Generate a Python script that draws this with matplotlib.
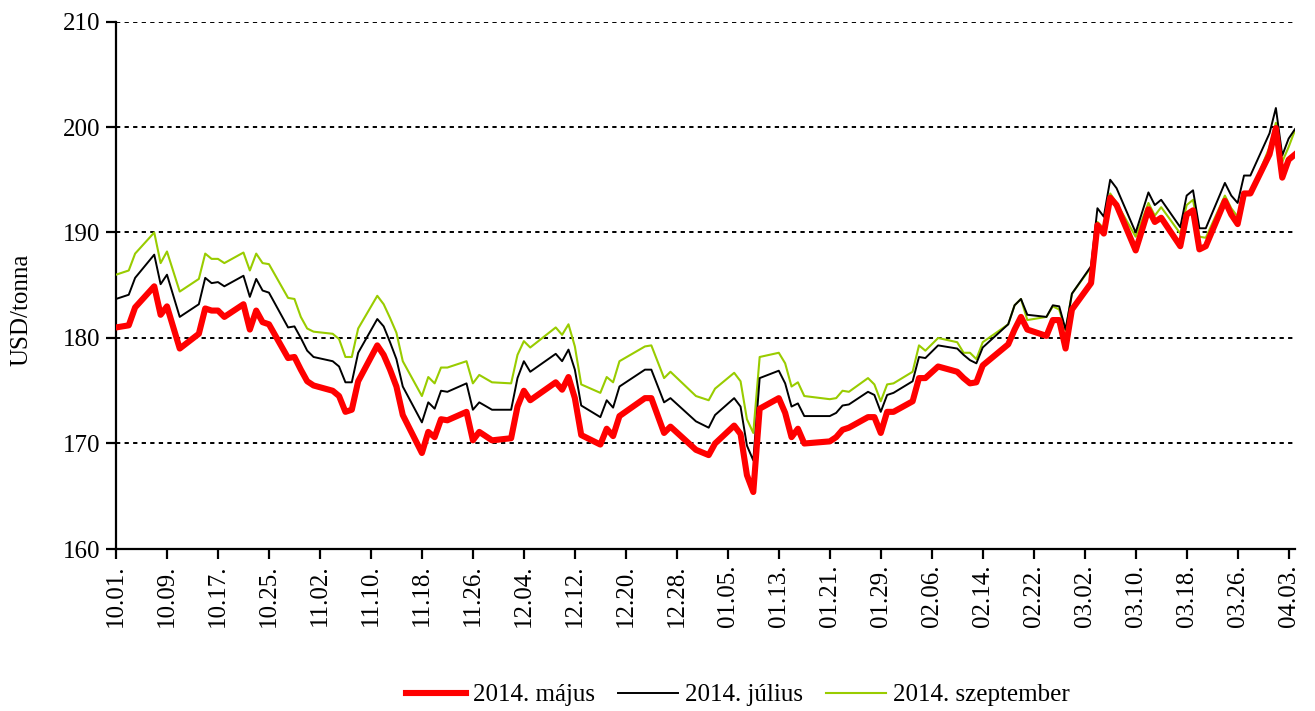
import matplotlib
matplotlib.use("Agg")
import matplotlib.pyplot as plt
import matplotlib.dates as mdates
from datetime import datetime, timedelta

# trading days (vertices)
dates = ["2013-10-01", "2013-10-03", "2013-10-04", "2013-10-07", "2013-10-08", "2013-10-09",
         "2013-10-11", "2013-10-14", "2013-10-15", "2013-10-16", "2013-10-17", "2013-10-18",
         "2013-10-21", "2013-10-22", "2013-10-23", "2013-10-24", "2013-10-25", "2013-10-28",
         "2013-10-29", "2013-10-30", "2013-10-31", "2013-11-01", "2013-11-04", "2013-11-05",
         "2013-11-06", "2013-11-07", "2013-11-08", "2013-11-11", "2013-11-12", "2013-11-13",
         "2013-11-14", "2013-11-15", "2013-11-18", "2013-11-19", "2013-11-20", "2013-11-21",
         "2013-11-22", "2013-11-25", "2013-11-26", "2013-11-27", "2013-11-29", "2013-12-02",
         "2013-12-03", "2013-12-04", "2013-12-05", "2013-12-09", "2013-12-10", "2013-12-11",
         "2013-12-12", "2013-12-13", "2013-12-16", "2013-12-17", "2013-12-18", "2013-12-19",
         "2013-12-23", "2013-12-24", "2013-12-26", "2013-12-27", "2013-12-31", "2014-01-02",
         "2014-01-03", "2014-01-06", "2014-01-07", "2014-01-08", "2014-01-09", "2014-01-10",
         "2014-01-13", "2014-01-14", "2014-01-15", "2014-01-16", "2014-01-17", "2014-01-21",
         "2014-01-22", "2014-01-23", "2014-01-24", "2014-01-27", "2014-01-28", "2014-01-29",
         "2014-01-30", "2014-01-31", "2014-02-03", "2014-02-04", "2014-02-05", "2014-02-07",
         "2014-02-10", "2014-02-11", "2014-02-12", "2014-02-13", "2014-02-14", "2014-02-18",
         "2014-02-19", "2014-02-20", "2014-02-21", "2014-02-24", "2014-02-25", "2014-02-26",
         "2014-02-27", "2014-02-28", "2014-03-03", "2014-03-04", "2014-03-05", "2014-03-06",
         "2014-03-07", "2014-03-10", "2014-03-12", "2014-03-13", "2014-03-14", "2014-03-17",
         "2014-03-18", "2014-03-19", "2014-03-20", "2014-03-21", "2014-03-24", "2014-03-25",
         "2014-03-26", "2014-03-27", "2014-03-28", "2014-03-31", "2014-04-01", "2014-04-02",
         "2014-04-03", "2014-04-04"]

# 2014. május
may = [181.0, 181.2, 182.9, 184.9, 182.2, 183.0,
       179.0, 180.4, 182.8, 182.6, 182.6, 182.0,
       183.2, 180.8, 182.6, 181.5, 181.3, 178.1,
       178.2, 177.0, 175.9, 175.5, 175.0, 174.5,
       173.0, 173.2, 175.9, 179.3, 178.4, 177.0,
       175.4, 172.7, 169.1, 171.1, 170.6, 172.3,
       172.2, 173.0, 170.3, 171.1, 170.3, 170.5,
       173.5, 175.0, 174.1, 175.8, 175.1, 176.3,
       174.3, 170.8, 169.9, 171.4, 170.7, 172.6,
       174.3, 174.3, 171.0, 171.6, 169.4, 168.9,
       170.0, 171.7, 170.9, 167.0, 165.4, 173.3,
       174.3, 172.9, 170.6, 171.4, 170.0, 170.2,
       170.6, 171.3, 171.5, 172.5, 172.5, 171.0,
       173.0, 173.0, 174.0, 176.2, 176.2, 177.3,
       176.8, 176.2, 175.7, 175.8, 177.4, 179.4,
       180.8, 182.0, 180.8, 180.2, 181.7, 181.7,
       179.0, 182.7, 185.2, 190.7, 189.9, 193.3,
       192.6, 188.3, 192.2, 191.0, 191.4, 188.7,
       191.7, 192.1, 188.4, 188.7, 193.0, 191.7,
       190.8, 193.7, 193.7, 197.4, 199.9, 195.2,
       196.9, 197.4]

# 2014. július
jul = [183.7, 184.1, 185.7, 187.9, 185.1, 186.0,
       182.0, 183.2, 185.7, 185.2, 185.3, 184.9,
       185.9, 183.9, 185.6, 184.5, 184.3, 181.0,
       181.1, 180.0, 178.8, 178.2, 177.8, 177.3,
       175.8, 175.8, 178.6, 181.8, 181.1, 179.6,
       178.0, 175.4, 172.0, 173.9, 173.3, 175.0,
       174.9, 175.7, 173.2, 173.9, 173.2, 173.2,
       176.2, 177.8, 176.8, 178.5, 177.8, 178.9,
       177.0, 173.6, 172.5, 174.1, 173.4, 175.4,
       177.0, 177.0, 173.9, 174.3, 172.1, 171.5,
       172.7, 174.3, 173.5, 169.8, 168.4, 176.2,
       176.9, 175.7, 173.5, 173.8, 172.6, 172.6,
       172.9, 173.6, 173.7, 174.9, 174.6, 173.0,
       174.6, 174.8, 175.9, 178.2, 178.1, 179.3,
       179.0, 178.4, 177.9, 177.6, 179.1, 181.3,
       183.1, 183.7, 182.2, 182.0, 183.1, 183.0,
       180.8, 184.2, 186.8, 192.3, 191.5, 195.0,
       194.2, 190.0, 193.8, 192.6, 193.1, 190.5,
       193.5, 194.0, 190.4, 190.4, 194.7, 193.5,
       192.8, 195.4, 195.4, 199.4, 201.8, 197.3,
       198.9, 199.8]

# 2014. szeptember
sep = [186.0, 186.4, 188.0, 190.0, 187.1, 188.2,
       184.4, 185.6, 188.0, 187.5, 187.5, 187.1,
       188.1, 186.4, 188.0, 187.1, 187.0, 183.8,
       183.7, 182.0, 180.9, 180.6, 180.4, 179.9,
       178.2, 178.2, 180.9, 184.0, 183.2, 181.9,
       180.5, 177.8, 174.5, 176.3, 175.7, 177.2,
       177.2, 177.8, 175.7, 176.5, 175.8, 175.7,
       178.4, 179.7, 179.1, 181.0, 180.3, 181.3,
       179.2, 175.6, 174.8, 176.3, 175.8, 177.8,
       179.2, 179.3, 176.2, 176.8, 174.5, 174.1,
       175.2, 176.7, 175.9, 172.3, 171.0, 178.2,
       178.6, 177.6, 175.4, 175.8, 174.5, 174.2,
       174.3, 175.0, 174.9, 176.2, 175.6, 174.0,
       175.6, 175.7, 176.8, 179.3, 178.8, 180.0,
       179.6, 178.6, 178.6, 178.0, 179.6, 181.3,
       183.1, 183.7, 181.7, 182.0, 183.0, 182.7,
       180.7, 184.2, 186.7, 191.0, 190.4, 193.7,
       192.8, 189.6, 192.8, 191.6, 192.4, 189.9,
       192.6, 193.1, 189.6, 189.5, 193.5, 192.3,
       191.5, 193.5, 193.6, 198.1, 200.4, 196.7,
       198.1, 199.7]

labels = ["2014. május", "2014. július", "2014. szeptember"]
colors = ["#ff0000", "#000000", "#99cc00"]

plt.rcParams['font.family'] = ['Liberation Serif', 'DejaVu Serif']
plt.rcParams['font.size'] = 18

x = [datetime.strptime(d, "%Y-%m-%d") for d in dates]

fig = plt.figure(figsize=(13.15, 7.11), dpi=100)
ax = fig.add_axes([116/1315, 1-549/711, (1295-116)/1315, (549-21.5)/711])

ax.plot(x, may, color=colors[0], lw=4.4, label=labels[0], zorder=5)
ax.plot(x, jul, color=colors[1], lw=1.4, label=labels[1], zorder=4)
ax.plot(x, sep, color=colors[2], lw=1.5, label=labels[2], zorder=3)

ax.set_ylim(160, 210)
ax.set_yticks(range(160, 211, 10))
start = datetime(2013, 10, 1)
ax.set_xlim(start, datetime(2014, 4, 4))
ax.set_xticks([start + timedelta(days=8*i) for i in range(24)])
ax.xaxis.set_major_formatter(mdates.DateFormatter("%m.%d."))
plt.setp(ax.get_xticklabels(), rotation=90)

# dotted grid
for v in range(170, 211, 10):
    ax.axhline(v, color='black', lw=1.4, ls=(0, (2.2, 2.2)), zorder=1)

for s in ['top', 'right']:
    ax.spines[s].set_visible(False)
for s in ['left', 'bottom']:
    ax.spines[s].set_linewidth(1.6)
ax.tick_params(axis='both', direction='out', length=7, width=1.6, pad=4)

fig.text(0.016, 1-310/711, "USD/tonna", rotation=90, va='center', ha='center')

fig.legend(loc='center', bbox_to_anchor=(738/1315, 1-695/711), ncol=3, frameon=False,
           handlelength=2.4, handletextpad=0.3, columnspacing=0.9)

fig.savefig("out.png", dpi=100)
